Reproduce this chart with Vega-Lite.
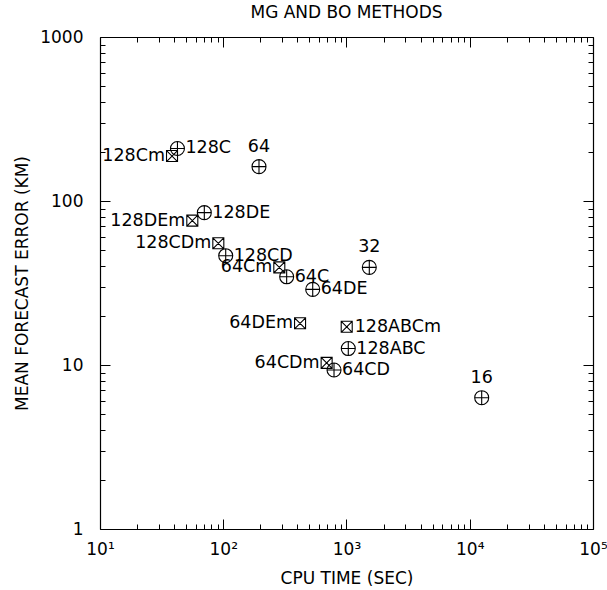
{
  "$schema": "https://vega.github.io/schema/vega-lite/v6.json",
  "autosize": "none",
  "padding": {"left": 100, "top": 37, "right": 14, "bottom": 61},
  "width": 493,
  "height": 492,
  "background": "white",
  "title": {"text": "MG AND BO METHODS", "font": "DejaVu Sans", "fontSize": 17, "fontWeight": "normal", "color": "black", "offset": 6, "anchor": "middle"},
  "config": {
    "view": {"stroke": null},
    "axis": {"grid": false, "domainColor": "black", "domainWidth": 1.2, "tickColor": "black", "tickWidth": 1, "labelFont": "DejaVu Sans", "labelFontSize": 17, "labelColor": "black", "titleFont": "DejaVu Sans", "titleFontSize": 17, "titleFontWeight": "normal", "titleColor": "black", "labelOverlap": false, "labelFlush": false}
  },
  "data": {"values": [
    {"label": "128Cm", "cpu": 38.4, "err": 188, "variant": "modified"},
    {"label": "128C", "cpu": 42.5, "err": 209, "variant": "standard"},
    {"label": "64", "cpu": 195, "err": 162, "variant": "standard"},
    {"label": "128DEm", "cpu": 56.1, "err": 75.9, "variant": "modified"},
    {"label": "128DE", "cpu": 70.2, "err": 84.9, "variant": "standard"},
    {"label": "128CDm", "cpu": 91.2, "err": 55.2, "variant": "modified"},
    {"label": "128CD", "cpu": 104.7, "err": 46.4, "variant": "standard"},
    {"label": "64Cm", "cpu": 285, "err": 39.4, "variant": "modified"},
    {"label": "64C", "cpu": 327, "err": 34.5, "variant": "standard"},
    {"label": "64DE", "cpu": 532, "err": 28.9, "variant": "standard"},
    {"label": "32", "cpu": 1531, "err": 39.4, "variant": "standard"},
    {"label": "64DEm", "cpu": 420, "err": 17.96, "variant": "modified"},
    {"label": "128ABCm", "cpu": 1004, "err": 17.1, "variant": "modified"},
    {"label": "128ABC", "cpu": 1034, "err": 12.6, "variant": "standard"},
    {"label": "64CDm", "cpu": 690, "err": 10.3, "variant": "modified"},
    {"label": "64CD", "cpu": 792, "err": 9.32, "variant": "standard"},
    {"label": "16", "cpu": 12500, "err": 6.32, "variant": "standard"}
  ]},
  "resolve": {"axis": {"x": "independent", "y": "independent"}},
  "layer": [
    {
      "mark": {"type": "point", "filled": false, "stroke": "black", "strokeWidth": 1.1, "opacity": 1},
      "encoding": {
        "x": {"field": "cpu", "type": "quantitative", "scale": {"type": "log", "domain": [10, 100000], "nice": false},
          "axis": {"orient": "bottom", "title": "CPU TIME (SEC)", "titlePadding": 8,
            "values": [10,20,30,40,50,60,70,80,90,100,200,300,400,500,600,700,800,900,1000,2000,3000,4000,5000,6000,7000,8000,9000,10000,20000,30000,40000,50000,60000,70000,80000,90000,100000],
            "labelExpr": "datum.value == 10 ? '10¹' : datum.value == 100 ? '10²' : datum.value == 1000 ? '10³' : datum.value == 10000 ? '10⁴' : datum.value == 100000 ? '10⁵' : ''",
            "tickSize": {"condition": {"test": "indexof([10,100,1000,10000,100000], datum.value) >= 0", "value": -10}, "value": -5},
            "labelPadding": 22}},
        "y": {"field": "err", "type": "quantitative", "scale": {"type": "log", "domain": [1, 1000], "nice": false},
          "axis": {"orient": "left", "title": "MEAN FORECAST ERROR (KM)", "titlePadding": 8,
            "values": [1,2,3,4,5,6,7,8,9,10,20,30,40,50,60,70,80,90,100,200,300,400,500,600,700,800,900,1000],
            "labelExpr": "indexof([1,10,100,1000], datum.value) >= 0 ? '' + datum.value : ''",
            "tickSize": {"condition": {"test": "indexof([1,10,100,1000], datum.value) >= 0", "value": -10}, "value": -5},
            "labelPadding": 27}},
        "shape": {"field": "variant", "type": "nominal", "legend": null,
          "scale": {"domain": ["standard", "modified"], "range": ["M -1 0 A 1 1 0 1 1 1 0 A 1 1 0 1 1 -1 0 Z M -1 0 L 1 0 M 0 -1 L 0 1", "M -1 -1 L 1 -1 L 1 1 L -1 1 Z M -1 -1 L 1 1 M 1 -1 L -1 1"]}},
        "size": {"field": "variant", "type": "nominal", "legend": null,
          "scale": {"domain": ["standard", "modified"], "range": [196, 121]}}
      }
    },
    {
      "mark": {"type": "point", "opacity": 0},
      "encoding": {
        "x": {"field": "cpu", "type": "quantitative",
          "axis": {"orient": "top", "title": null, "labels": false,
            "values": [10,20,30,40,50,60,70,80,90,100,200,300,400,500,600,700,800,900,1000,2000,3000,4000,5000,6000,7000,8000,9000,10000,20000,30000,40000,50000,60000,70000,80000,90000,100000],
            "tickSize": {"condition": {"test": "indexof([10,100,1000,10000,100000], datum.value) >= 0", "value": -10}, "value": -5}}},
        "y": {"field": "err", "type": "quantitative",
          "axis": {"orient": "right", "title": null, "labels": false,
            "values": [1,2,3,4,5,6,7,8,9,10,20,30,40,50,60,70,80,90,100,200,300,400,500,600,700,800,900,1000],
            "tickSize": {"condition": {"test": "indexof([1,10,100,1000], datum.value) >= 0", "value": -10}, "value": -5}}}
      }
    },
    {
      "transform": [{"filter": {"field": "label", "oneOf": ["128C", "128DE", "128CD", "64C", "64DE", "128ABCm", "128ABC", "64CD"]}}],
      "mark": {"type": "text", "align": "left", "baseline": "middle", "dx": 8, "font": "DejaVu Sans", "fontSize": 17.5, "color": "black"},
      "encoding": {
        "x": {"field": "cpu", "type": "quantitative", "axis": null},
        "y": {"field": "err", "type": "quantitative", "axis": null},
        "text": {"field": "label"}
      }
    },
    {
      "transform": [{"filter": {"field": "label", "oneOf": ["128Cm", "128DEm", "128CDm", "64Cm", "64DEm", "64CDm"]}}],
      "mark": {"type": "text", "align": "right", "baseline": "middle", "dx": -7, "font": "DejaVu Sans", "fontSize": 17.5, "color": "black"},
      "encoding": {
        "x": {"field": "cpu", "type": "quantitative", "axis": null},
        "y": {"field": "err", "type": "quantitative", "axis": null},
        "text": {"field": "label"}
      }
    },
    {
      "transform": [{"filter": {"field": "label", "oneOf": ["64", "32", "16"]}}],
      "mark": {"type": "text", "align": "center", "baseline": "middle", "dy": -20, "font": "DejaVu Sans", "fontSize": 17.5, "color": "black"},
      "encoding": {
        "x": {"field": "cpu", "type": "quantitative", "axis": null},
        "y": {"field": "err", "type": "quantitative", "axis": null},
        "text": {"field": "label"}
      }
    }
  ]
}
